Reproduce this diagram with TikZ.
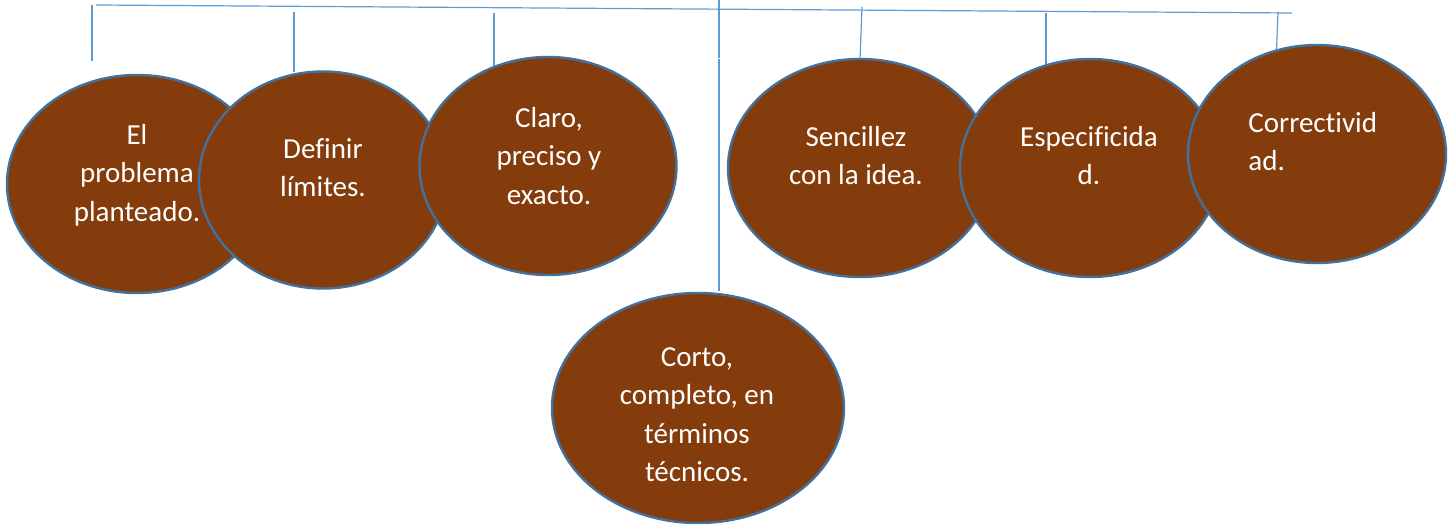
\documentclass[tikz,border=0pt]{standalone}
\usepackage{fontspec}
\setmainfont{Carlito}[Ligatures=NoCommon]
\usetikzlibrary{shapes.geometric}
\definecolor{brownfill}{HTML}{843C0C}
\definecolor{ellborder}{HTML}{41719C}
\definecolor{linkblue}{HTML}{5B9BD5}
\tikzset{
  ell/.style={ellipse, draw=ellborder, line width=1.2pt, fill=brownfill, inner sep=0pt},
  txt/.style={text=white, inner sep=0pt, align=center, anchor=north, font=\fontsize{14.5}{19.25}\selectfont},
  link/.style={draw=linkblue, line width=0.6pt},
}
\begin{document}
\begin{tikzpicture}[x=0.5pt, y=-0.5pt]
\useasboundingbox (0,0) rectangle (1448,524);
% connector lines
\coordinate (hl) at (96,5);
\coordinate (hr) at (1292,13);
\draw[link] (hl) -- (hr);
\coordinate (a1) at (92,5);    \coordinate (b1) at (92,61);
\coordinate (a2) at (294,12);  \coordinate (b2) at (294,72);
\coordinate (a3) at (494,13);  \coordinate (b3) at (494,66);
\coordinate (a4) at (719,0);   \coordinate (b4) at (719,58);
\coordinate (c4) at (719,59);  \coordinate (d4) at (719,291);
\coordinate (a5) at (862,7);   \coordinate (b5) at (860,60);
\coordinate (a6) at (1046,13); \coordinate (b6) at (1046,71);
\coordinate (a7) at (1278,12); \coordinate (b7) at (1276,63);
\draw[link] (a1) -- (b1);
\draw[link] (a2) -- (b2);
\draw[link] (a3) -- (b3);
\draw[link] (a4) -- (b4);
\draw[link] (c4) -- (d4);
\draw[link] (a5) -- (b5);
\draw[link] (a6) -- (b6);
\draw[link] (a7) -- (b7);
% ellipses and texts
\node[ell, minimum width=130pt, minimum height=109pt] (e1) at (137,184) {};
\node[txt] (t1) at (137,117) {\strut El\\problema\\planteado.};
\node[ell, minimum width=124pt, minimum height=108.5pt] (e2) at (323,180) {};
\node[txt] (t2) at (323,131) {\strut Definir\\límites.};
\node[ell, minimum width=128.5pt, minimum height=109pt] (e3) at (548,166) {};
\node[txt] (t3) at (549,100) {\strut Claro,\\preciso y\\exacto.};
\node[ell, minimum width=146pt, minimum height=115pt] (e4) at (698,408) {};
\node[txt] (t4) at (697,339) {\strut Corto,\\completo, en\\términos\\técnicos.};
\node[ell, minimum width=132pt, minimum height=109pt] (e5) at (860,168) {};
\node[txt] (t5) at (856,119) {\strut Sencillez\\con la idea.};
\node[ell, minimum width=130pt, minimum height=109pt] (e6) at (1090,168) {};
\node[txt] (t6) at (1089,119) {\strut Especificida\\d.};
\node[ell, minimum width=129pt, minimum height=109pt] (e7) at (1317,154) {};
\node[txt, align=left, anchor=north west] (t7) at (1248,105) {\strut Correctivid\\ad.};
\end{tikzpicture}
\end{document}
